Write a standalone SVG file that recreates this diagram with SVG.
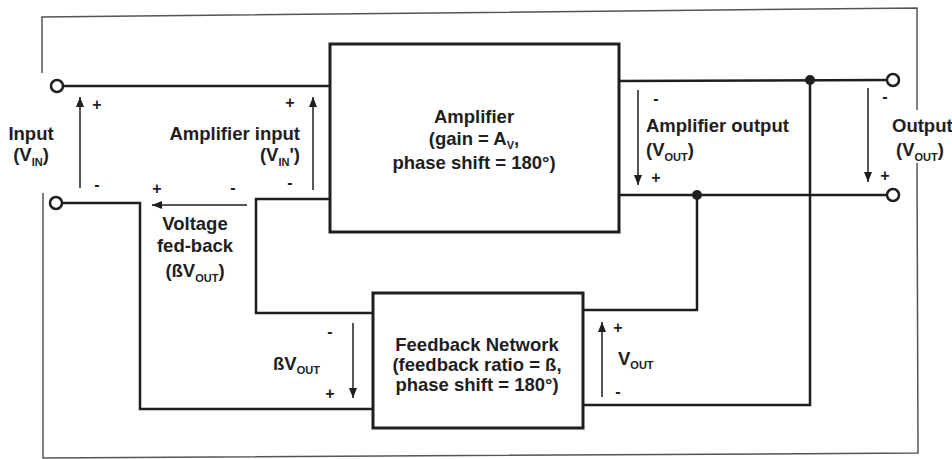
<svg xmlns="http://www.w3.org/2000/svg" width="952" height="459" viewBox="0 0 952 459">
<style>
text{font-family:"Liberation Sans",Arial,sans-serif;font-weight:bold;fill:#1e1e1e}
.lbl{font-size:18.5px}
.pm{font-size:16px;text-anchor:middle}
.sub{font-size:11px}
.wire{fill:none;stroke:#1e1e1e;stroke-width:2.5;stroke-linejoin:miter}
.box{fill:#fff;stroke:#1e1e1e;stroke-width:3}
.frame{fill:none;stroke:#555;stroke-width:1.5}
.arr{stroke:#1e1e1e;stroke-width:1.5;fill:none;marker-end:url(#ah)}
.term{fill:#fff;stroke:#1e1e1e;stroke-width:2.5}
.dot{fill:#1e1e1e}
</style>
<defs>
<marker id="ah" markerUnits="userSpaceOnUse" markerWidth="10" markerHeight="8" refX="10" refY="4" orient="auto">
<path d="M0,0 L10,4 L0,8 z" fill="#1e1e1e"/>
</marker>
</defs>
<rect width="952" height="459" fill="#fff"/>
<g id="frame">
<polyline class="frame" points="42,73 42,17 917,8 917,110"/>
<polyline class="frame" points="917,163 918,453 43,458 43,193"/>
</g>
<g id="connectors">
<polyline class="wire" points="63,86 330,86"/>
<polyline class="wire" points="62,203 140,203 140,409 373,409"/>
<polyline class="wire" points="330,199 256,199 256,313 373,313"/>
<polyline class="wire" points="619,81 887,80"/>
<polyline class="wire" points="619,195 887,195"/>
<polyline class="wire" points="697,195 697,310 583,310"/>
<polyline class="wire" points="810,80 810,405 583,405"/>
<circle class="dot" cx="810" cy="80" r="5"/>
<circle class="dot" cx="697" cy="195" r="5"/>
<line class="arr" x1="80" y1="188" x2="80" y2="97"/>
<line class="arr" x1="313" y1="190" x2="313" y2="97"/>
<line class="arr" x1="247" y1="205" x2="152" y2="205"/>
<line class="arr" x1="638" y1="90" x2="638" y2="185"/>
<line class="arr" x1="868" y1="88" x2="868" y2="182"/>
<line class="arr" x1="353" y1="323" x2="353" y2="398"/>
<line class="arr" x1="602" y1="397" x2="602" y2="322"/>
</g>
<g id="input-terminals">
<circle class="term" cx="57" cy="86" r="6"/>
<circle class="term" cx="56" cy="203" r="6"/>
<text class="lbl" x="31" y="140" text-anchor="middle">Input</text>
<text class="lbl" x="31" y="161" text-anchor="middle">(V<tspan class="sub" dy="5">IN</tspan><tspan dy="-5">)</tspan></text>
<text class="pm" x="97" y="110">+</text>
<text class="pm" x="97" y="190">-</text>
</g>
<g id="output-terminals">
<circle class="term" cx="893" cy="80" r="6"/>
<circle class="term" cx="893" cy="195" r="6"/>
<text class="lbl" x="892" y="132">Output</text>
<text class="lbl" x="896" y="156">(V<tspan class="sub" dy="5">OUT</tspan><tspan dy="-5">)</tspan></text>
<text class="pm" x="885" y="102">-</text>
<text class="pm" x="885" y="181">+</text>
</g>
<g id="amplifier">
<rect class="box" x="330" y="44" width="289" height="188"/>
<text class="lbl" x="474" y="123" text-anchor="middle">Amplifier</text>
<text class="lbl" x="474" y="145" text-anchor="middle">(gain = A<tspan class="sub" dy="4">V</tspan><tspan dy="-4">,</tspan></text>
<text class="lbl" x="474" y="169" text-anchor="middle">phase shift = 180°)</text>
</g>
<g id="feedback-network">
<rect class="box" x="373" y="293" width="210" height="135"/>
<text class="lbl" x="477" y="351" text-anchor="middle">Feedback Network</text>
<text class="lbl" x="477" y="371" text-anchor="middle">(feedback ratio = ß,</text>
<text class="lbl" x="477" y="391" text-anchor="middle">phase shift = 180°)</text>
</g>
<g id="amplifier-input">
<text class="lbl" x="300" y="140" text-anchor="end">Amplifier input</text>
<text class="lbl" x="300" y="161" text-anchor="end">(V<tspan class="sub" dy="5">IN</tspan><tspan dy="-5">')</tspan></text>
<text class="pm" x="290" y="108">+</text>
<text class="pm" x="290" y="188">-</text>
</g>
<g id="voltage-fed-back">
<text class="lbl" x="195" y="230" text-anchor="middle">Voltage</text>
<text class="lbl" x="195" y="252" text-anchor="middle">fed-back</text>
<text class="lbl" x="195" y="277" text-anchor="middle">(ßV<tspan class="sub" dy="5">OUT</tspan><tspan dy="-5">)</tspan></text>
<text class="pm" x="157" y="194">+</text>
<text class="pm" x="233" y="193">-</text>
</g>
<g id="amplifier-output">
<text class="lbl" x="646" y="132">Amplifier output</text>
<text class="lbl" x="646" y="156">(V<tspan class="sub" dy="5">OUT</tspan><tspan dy="-5">)</tspan></text>
<text class="pm" x="656" y="104">-</text>
<text class="pm" x="656" y="183">+</text>
</g>
<g id="feedback-voltage">
<text class="lbl" x="273" y="370">ßV<tspan class="sub" dy="4">OUT</tspan></text>
<text class="pm" x="330" y="337">-</text>
<text class="pm" x="330" y="399">+</text>
</g>
<g id="output-voltage">
<text class="lbl" x="618" y="365">V<tspan class="sub" dy="4">OUT</tspan></text>
<text class="pm" x="618" y="333">+</text>
<text class="pm" x="618" y="397">-</text>
</g>
</svg>
